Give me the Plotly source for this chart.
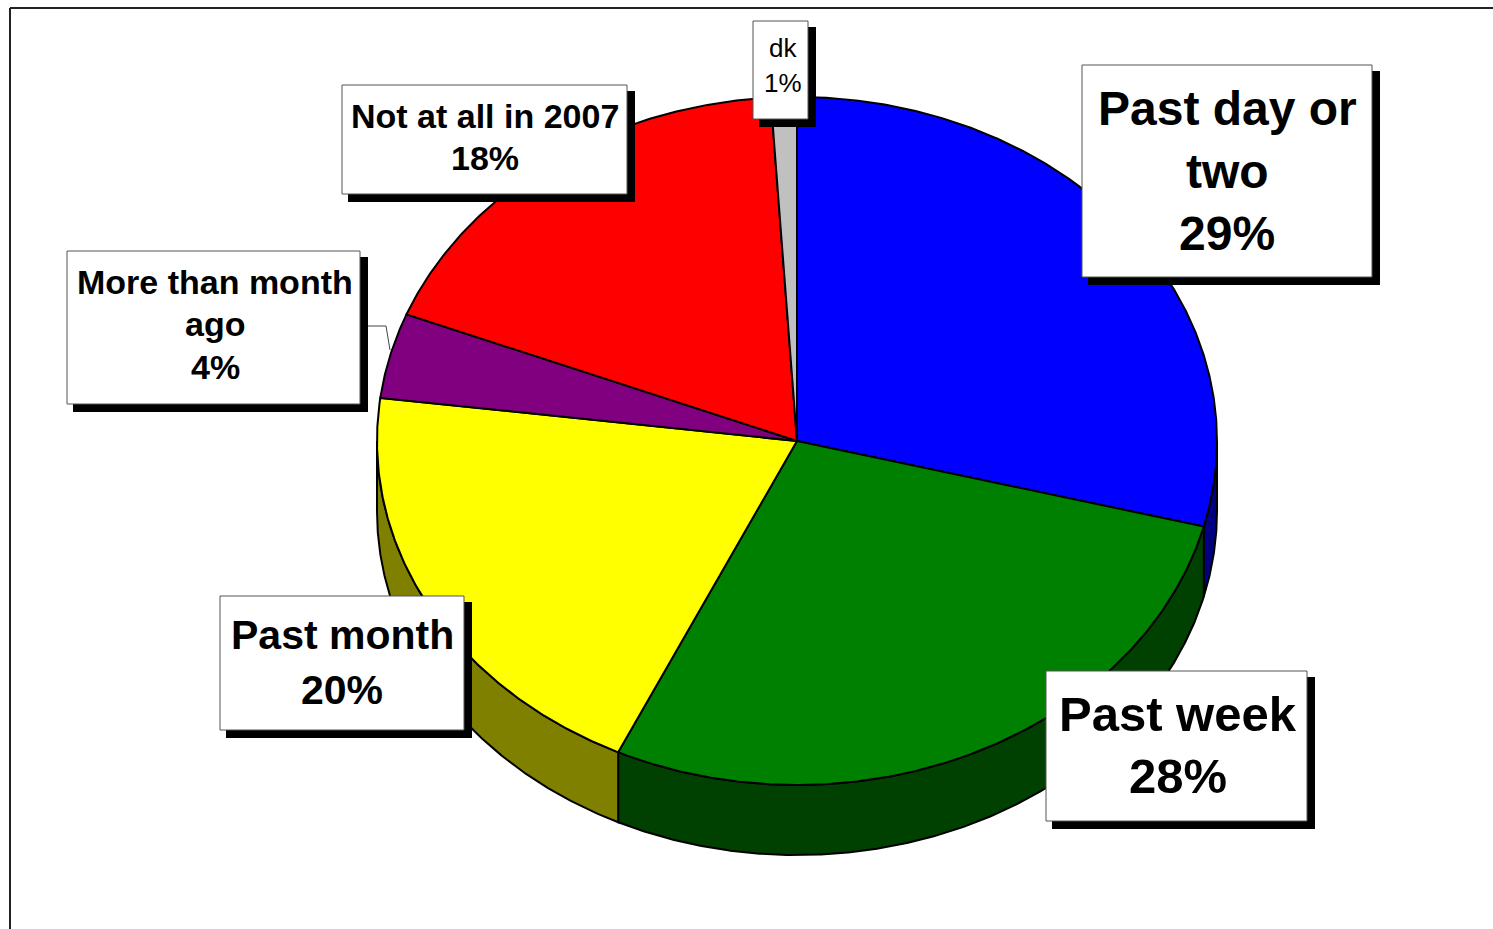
import numpy as np
import plotly.graph_objects as go

# ---------------- data ----------------
categories = ["Past day or two", "Past week", "Past month",
              "More than month ago", "Not at all in 2007", "dk"]
values = [29, 28, 20, 4, 18, 1]
label_lines = [["Past day or", "two"], ["Past week"], ["Past month"],
               ["More than month", "ago"], ["Not at all in 2007"], ["dk"]]
top_colors = ["#0000FF", "#008000", "#FFFF00", "#800080", "#FF0000", "#C0C0C0"]
side_colors = ["#000080", "#004000", "#808000", "#400040", "#800000", "#606060"]

# ---------------- layout constants ----------------
W, H = 1493, 929
CX, CY, RX, RY, DEPTH = 797, 441, 420, 344, 70

# label boxes: (x0, y0, x1, y1), text x, line centres, font size, bold
boxes = [
    dict(box=(1082, 65, 1372, 277), tx=1227, ys=[108, 171, 233], size=48, bold=True),
    dict(box=(1046, 671, 1307, 821), tx=1178, ys=[714, 776], size=49, bold=True),
    dict(box=(220, 596, 464, 730), tx=342, ys=[635, 690], size=41, bold=True),
    dict(box=(67, 251, 360, 404), tx=215, ys=[282, 324, 367], size=34, bold=True),
    dict(box=(342, 85, 627, 194), tx=485, ys=[116, 158], size=34, bold=True),
    dict(box=(753, 21, 808, 119), tx=783, ys=[48, 83], size=26, bold=False),
]
SHADOW = 8


def pt(theta_deg, dy=0.0):
    t = np.radians(theta_deg)
    return CX + RX * np.sin(t), CY - RY * np.cos(t) + dy


fig = go.Figure()

total = float(sum(values))
bounds = np.concatenate([[0.0], np.cumsum(values) / total * 360.0])

# side (extruded) faces first
for i, v in enumerate(values):
    a, b = max(bounds[i], 90.0), min(bounds[i + 1], 270.0)
    if a >= b:
        continue
    th = np.linspace(a, b, max(int((b - a) * 3), 2))
    xt, yt = pt(th)
    xb, yb = pt(th[::-1], DEPTH)
    xs = np.concatenate([xt, xb, xt[:1]])
    ys = np.concatenate([yt, yb, yt[:1]])
    fig.add_trace(go.Scatter(x=xs, y=ys, mode="lines", fill="toself",
                             fillcolor=side_colors[i],
                             line=dict(color="black", width=2),
                             hoverinfo="skip", showlegend=False))

# top faces
for i, v in enumerate(values):
    a, b = bounds[i], bounds[i + 1]
    th = np.linspace(a, b, max(int((b - a) * 3), 2))
    xt, yt = pt(th)
    xs = np.concatenate([[CX], xt, [CX]])
    ys = np.concatenate([[CY], yt, [CY]])
    fig.add_trace(go.Scatter(x=xs, y=ys, mode="lines", fill="toself",
                             fillcolor=top_colors[i],
                             line=dict(color="black", width=2),
                             name=categories[i], text=f"{v}%",
                             hoverinfo="name+text", showlegend=False))

shapes = []
annotations = []
# frame lines (top and left)
shapes.append(dict(type="line", x0=10, y0=8, x1=W, y1=8, line=dict(color="#222222", width=2)))
shapes.append(dict(type="line", x0=10, y0=8, x1=10, y1=H, line=dict(color="#222222", width=2)))
# leader line for the small purple slice
shapes.append(dict(type="path", path="M 367 326 L 386 326 L 390 350",
                   line=dict(color="#444444", width=1)))

for i, bx in enumerate(boxes):
    x0, y0, x1, y1 = bx["box"]
    shapes.append(dict(type="rect", x0=x0 + SHADOW - 2, y0=y0 + SHADOW - 2,
                       x1=x1 + SHADOW, y1=y1 + SHADOW,
                       fillcolor="black", line=dict(width=0)))
    shapes.append(dict(type="rect", x0=x0, y0=y0, x1=x1, y1=y1,
                       fillcolor="white", line=dict(color="#555555", width=1)))
    lines = label_lines[i] + [f"{values[i]}%"]
    for txt, yy in zip(lines, bx["ys"]):
        annotations.append(dict(
            x=bx["tx"], y=yy, xref="x", yref="y", text=txt, showarrow=False,
            xanchor="center", yanchor="middle",
            font=dict(family="Liberation Sans, Arial, sans-serif", size=bx["size"],
                      color="black", weight=700 if bx["bold"] else 400)))

fig.update_layout(
    width=W, height=H, margin=dict(l=0, r=0, t=0, b=0),
    paper_bgcolor="white", plot_bgcolor="white",
    xaxis=dict(range=[0, W], visible=False, fixedrange=True),
    yaxis=dict(range=[H, 0], visible=False, fixedrange=True),
    shapes=shapes, annotations=annotations, showlegend=False,
)

fig.write_html("out.html", config={"displayModeBar": False},
               post_script="document.body.style.margin='0';")
